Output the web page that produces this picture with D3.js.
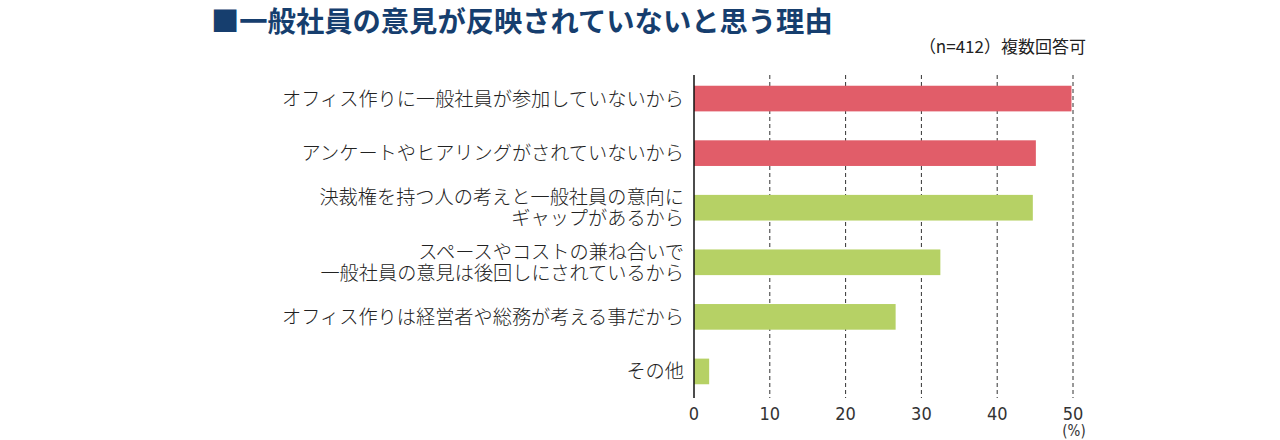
<!DOCTYPE html>
<html>
<head>
<meta charset="utf-8">
<script src="https://cdn.jsdelivr.net/npm/d3@7"></script>
<style>
  body { margin: 0; background: #fff; }
  svg { display: block; font-family: "Noto Sans CJK JP", "Noto Sans", sans-serif; }
</style>
</head>
<body>
<div id="chart"></div>
<script>
// reasons (line breaks as in the original)
var categories = [
  ["オフィス作りに一般社員が参加していないから"],
  ["アンケートやヒアリングがされていないから"],
  ["決裁権を持つ人の考えと一般社員の意向に", "ギャップがあるから"],
  ["スペースやコストの兼ね合いで", "一般社員の意見は後回しにされているから"],
  ["オフィス作りは経営者や総務が考える事だから"],
  ["その他"]
];
var values = [49.8, 45.1, 44.7, 32.5, 26.6, 2.0];
var highlight = [true, true, false, false, false, false];
var ticks = [0, 10, 20, 30, 40, 50];

var width = 1280, height = 440;
var x0 = 694, x1 = 1073;

var svg = d3.select("#chart").append("svg")
  .attr("width", width)
  .attr("height", height);

// title
svg.append("text")
  .attr("x", 211).attr("y", 32)
  .attr("font-size", 28.3).attr("font-weight", "bold")
  .attr("fill", "#163e6e")
  .text("■一般社員の意見が反映されていないと思う理由");

svg.append("text")
  .attr("x", 1086).attr("y", 53)
  .attr("text-anchor", "end")
  .attr("font-size", 17)
  .attr("fill", "#222")
  .text("（n=412）複数回答可");

var x = d3.scaleLinear().domain([0, 50]).range([x0, x1]);
var y = d3.scaleBand()
  .domain(d3.range(categories.length))
  .range([71, 399])
  .paddingInner(0.53)
  .paddingOuter(0.27);

// dashed grid
svg.append("g").selectAll("line")
  .data(ticks.slice(1))
  .enter().append("line")
  .attr("x1", d => x(d)).attr("x2", d => x(d))
  .attr("y1", 75).attr("y2", 398)
  .attr("stroke", "#333")
  .attr("stroke-width", 1)
  .attr("stroke-dasharray", "4,3");

// bars
svg.append("g").selectAll("rect")
  .data(values)
  .enter().append("rect")
  .attr("x", x(0))
  .attr("y", (d, i) => y(i))
  .attr("width", d => x(d) - x(0))
  .attr("height", y.bandwidth())
  .attr("fill", (d, i) => highlight[i] ? "#e15d69" : "#b6d165");

// zero axis line
svg.append("line")
  .attr("x1", x(0)).attr("x2", x(0))
  .attr("y1", 75).attr("y2", 398)
  .attr("stroke", "#111").attr("stroke-width", 1.5);

// category labels
var labels = svg.append("g").selectAll("text")
  .data(categories)
  .enter().append("text")
  .attr("text-anchor", "end")
  .attr("font-size", 19.2)
  .attr("font-weight", 300)
  .attr("fill", "#222")
  .attr("y", (d, i) => y(i) + y.bandwidth() / 2 - (d.length - 1) * 10.5 + 7);

labels.selectAll("tspan")
  .data(d => d)
  .enter().append("tspan")
  .attr("x", 684)
  .attr("dy", (d, i) => i === 0 ? 0 : 21)
  .text(d => d);

// tick labels
svg.append("g").selectAll("text")
  .data(ticks)
  .enter().append("text")
  .attr("x", d => x(d))
  .attr("y", 420)
  .attr("text-anchor", "middle")
  .attr("font-family", "'Liberation Sans Narrow', 'DejaVu Sans Condensed', sans-serif")
  .attr("font-size", 18)
  .attr("fill", "#333")
  .text(d => d);

svg.append("text")
  .attr("x", x(50) + 1).attr("y", 436)
  .attr("text-anchor", "middle")
  .attr("font-family", "'Liberation Sans Narrow', 'DejaVu Sans Condensed', sans-serif")
  .attr("font-size", 15)
  .attr("fill", "#333")
  .text("(%)");
</script>
</body>
</html>
